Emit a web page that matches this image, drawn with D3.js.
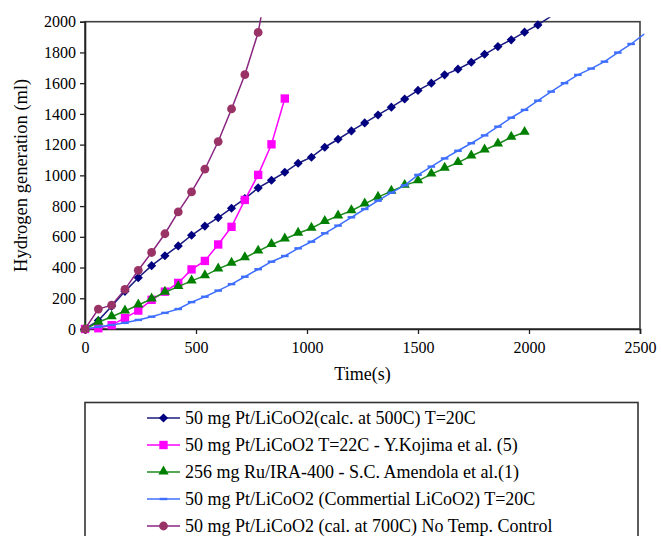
<!DOCTYPE html>
<html>
<head>
<meta charset="utf-8">
<script src="https://cdn.jsdelivr.net/npm/d3@7"></script>
<style>
  html, body { margin: 0; padding: 0; background: #fff; }
  svg { display: block; }
  text { font-family: "Liberation Serif", "Times New Roman", serif; fill: #000; }
</style>
</head>
<body>
<svg id="chart" width="661" height="536"></svg>
<script>
// Sampling times (s), one reading per minute
const timesNavy   = d3.range(0, 2101, 60);
const timesPink   = d3.range(0, 901, 60);
const timesGreen  = d3.range(0, 1981, 60);
const timesBlue   = d3.range(0, 2521, 60);
const timesPurple = d3.range(0, 841, 60);

// Hydrogen generated (ml)
const navyValues = [0, 55, 148, 245, 334, 412, 477, 541, 610, 670, 725, 786, 848, 918, 968, 1020,
  1079, 1118, 1183, 1235, 1289, 1341, 1393, 1444, 1497, 1553, 1600, 1654, 1691, 1736, 1788,
  1838, 1882, 1932, 1979, 2036];
const pinkValues = [0, 5, 25, 72, 120, 190, 243, 300, 388, 443, 550, 665, 840, 1003, 1202, 1500];
const greenValues = [0, 44, 80, 117, 156, 195, 239, 276, 313, 347, 391, 428, 464, 507, 550, 586,
  623, 656, 700, 736, 770, 814, 858, 897, 935, 964, 1008, 1046, 1083, 1126, 1165, 1204, 1248, 1280];
const blueValues = [0, 15, 26, 40, 59, 80, 105, 130, 175, 210, 250, 292, 340, 389, 438, 475, 525,
  568, 623, 673, 727, 781, 835, 887, 935, 1003, 1057, 1110, 1160, 1209, 1260, 1317, 1375, 1426,
  1486, 1545, 1600, 1654, 1695, 1740, 1799, 1855, 1921];
const purpleValues = [0, 130, 155, 258, 382, 498, 620, 762, 892, 1040, 1220, 1432, 1655, 1930, 2400];

const xTicks = [0, 500, 1000, 1500, 2000, 2500];
const yTicks = [0, 200, 400, 600, 800, 1000, 1200, 1400, 1600, 1800, 2000];

const seriesNames = [
  "50 mg Pt/LiCoO2(calc. at 500C) T=20C",
  "50 mg Pt/LiCoO2 T=22C - Y.Kojima et al. (5)",
  "256 mg Ru/IRA-400 - S.C. Amendola et al.(1)",
  "50 mg Pt/LiCoO2 (Commertial LiCoO2) T=20C",
  "50 mg Pt/LiCoO2 (cal. at 700C) No Temp. Control"
];

const series = [
  { name: seriesNames[0], t: timesNavy,   v: navyValues,   line: "#1a1a80", fill: "#000080", marker: "diamond" },
  { name: seriesNames[1], t: timesPink,   v: pinkValues,   line: "#ff00ff", fill: "#ff00ff", marker: "square" },
  { name: seriesNames[2], t: timesGreen,  v: greenValues,  line: "#1e8a1e", fill: "#008000", marker: "triangle" },
  { name: seriesNames[3], t: timesBlue,   v: blueValues,   line: "#3f6fff", fill: "#3f6fff", marker: "dash" },
  { name: seriesNames[4], t: timesPurple, v: purpleValues, line: "#8a2580", fill: "#993366", marker: "circle" }
];

const svg = d3.select("#chart");
const plot = { left: 85, right: 640, top: 21.7, bottom: 329 };

const x = d3.scaleLinear().domain([0, 2500]).range([plot.left, plot.right]);
const y = d3.scaleLinear().domain([0, 2000]).range([plot.bottom, plot.top]);

// Lines may run a few pixels past the plot frame before being cut
const pad = 4.5;
svg.append("defs").append("clipPath").attr("id", "lineClip")
  .append("rect")
  .attr("x", plot.left - pad).attr("y", plot.top - pad)
  .attr("width", plot.right - plot.left + 2 * pad)
  .attr("height", plot.bottom - plot.top + 2 * pad);

// Plot frame
svg.append("rect")
  .attr("x", plot.left).attr("y", plot.top)
  .attr("width", plot.right - plot.left).attr("height", plot.bottom - plot.top)
  .attr("fill", "none").attr("stroke", "#404040").attr("stroke-width", 1.6);

// Axes
const fmt = d3.format("d");
const xAxis = svg.append("g")
  .attr("transform", `translate(0,${plot.bottom})`)
  .call(d3.axisBottom(x).tickValues(xTicks).tickFormat(fmt).tickSizeOuter(0).tickSize(5).tickPadding(8));
const yAxis = svg.append("g")
  .attr("transform", `translate(${plot.left},0)`)
  .call(d3.axisLeft(y).tickValues(yTicks).tickFormat(fmt).tickSizeOuter(0).tickSize(5).tickPadding(4));
[xAxis, yAxis].forEach(g => {
  g.attr("font-family", null).attr("font-size", null);
  g.select(".domain").attr("stroke", "#222").attr("stroke-width", 1.6);
  g.selectAll(".tick line").attr("stroke", "#222").attr("stroke-width", 1.3);
  g.selectAll(".tick text")
    .attr("font-family", '"Liberation Serif", "Times New Roman", serif')
    .style("font-size", "16px").attr("fill", "#000");
});

// Axis titles
svg.append("text")
  .attr("x", x(1250)).attr("y", 380)
  .attr("text-anchor", "middle")
  .style("font-size", "18px")
  .text("Time(s)");
svg.append("text")
  .attr("transform", `translate(27,${(plot.top + plot.bottom) / 2}) rotate(-90)`)
  .attr("text-anchor", "middle")
  .style("font-size", "18.5px")
  .text("Hydrogen generation (ml)");

// Marker drawing
function drawMarker(g, kind, fill) {
  if (kind === "diamond") {
    g.append("path").attr("d", d3.symbol(d3.symbolSquare, 42)()).attr("transform", "rotate(45)").attr("fill", fill);
  } else if (kind === "square") {
    g.append("path").attr("d", d3.symbol(d3.symbolSquare, 70)()).attr("fill", fill);
  } else if (kind === "triangle") {
    g.append("path").attr("d", d3.symbol(d3.symbolTriangle, 46)()).attr("transform", "translate(0,-0.5)").attr("fill", fill);
  } else if (kind === "circle") {
    g.append("circle").attr("r", 4.4).attr("fill", fill);
  } else if (kind === "dash") {
    g.append("rect").attr("x", -3.8).attr("y", -1.2).attr("width", 7.6).attr("height", 2.4).attr("fill", fill);
  }
}

const lineGen = d3.line().x(d => x(d[0])).y(d => y(d[1]));

const seriesLayer = svg.append("g");
series.forEach(s => {
  const pts = s.t.map((t, i) => [t, s.v[i]]);
  const g = seriesLayer.append("g");
  g.append("path")
    .datum(pts)
    .attr("clip-path", "url(#lineClip)")
    .attr("fill", "none")
    .attr("stroke", s.line)
    .attr("stroke-width", 1.5)
    .attr("d", lineGen);
  // markers only for points inside the axis ranges
  pts.filter(p => p[0] <= 2500 && p[1] <= 2000).forEach(p => {
    const m = g.append("g").attr("transform", `translate(${x(p[0])},${y(p[1])})`);
    drawMarker(m, s.marker, s.fill);
  });
});

// Legend
const legend = svg.append("g");
legend.append("rect")
  .attr("x", 85).attr("y", 402.5)
  .attr("width", 553).attr("height", 160)
  .attr("fill", "#fff").attr("stroke", "#333").attr("stroke-width", 1.6);

const rowY = d3.scalePoint().domain(seriesNames).range([418, 526]);
series.forEach(s => {
  const ry = rowY(s.name);
  const row = legend.append("g");
  row.append("line")
    .attr("x1", 147).attr("x2", 180).attr("y1", ry).attr("y2", ry)
    .attr("stroke", s.line).attr("stroke-width", 1.5);
  const m = row.append("g").attr("transform", `translate(163.5,${ry})`);
  drawMarker(m, s.marker, s.fill);
  row.append("text")
    .attr("x", 185).attr("y", ry).attr("dy", "0.35em")
    .style("font-size", "18px")
    .text(s.name);
});
</script>
</body>
</html>
